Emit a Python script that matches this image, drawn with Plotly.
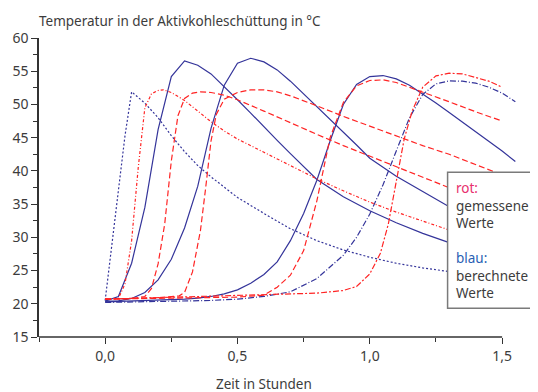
import plotly.graph_objects as go

# ---------------- data ----------------
x_tickvals = [0, 0.5, 1.0, 1.5]
x_ticktext = ["0,0", "0,5", "1,0", "1,5"]
y_tickvals = [15, 20, 25, 30, 35, 40, 45, 50, 55, 60]

# blue = berechnete Werte
blue_dot_t = [0, 0.025, 0.05, 0.075, 0.1, 0.15, 0.2, 0.25, 0.3, 0.35, 0.4, 0.5, 0.6, 0.7, 0.8, 0.9, 1.0, 1.1, 1.2, 1.3, 1.4, 1.5]
blue_dot_T = [20.5, 29, 37.5, 45.3, 51.9, 50.2, 48.0, 45.3, 42.9, 40.8, 39.1, 36.0, 33.6, 31.3, 29.5, 28.1, 27.0, 26.1, 25.4, 24.8, 24.3, 23.9]

blue_s1_t = [0, 0.05, 0.1, 0.15, 0.2, 0.25, 0.3, 0.35, 0.4, 0.45, 0.5, 0.55, 0.6, 0.65, 0.7, 0.75, 0.8, 0.9, 1.0, 1.1, 1.2, 1.3, 1.4, 1.5]
blue_s1_T = [20.4, 21.1, 26.1, 34.5, 46.2, 54.2, 56.55, 55.9, 54.6, 52.7, 50.7, 48.7, 46.6, 44.6, 42.6, 40.6, 38.7, 36.1, 34.0, 32.2, 30.6, 29.2, 28.0, 27.0]

blue_s2_t = [0, 0.05, 0.1, 0.15, 0.2, 0.25, 0.3, 0.35, 0.4, 0.45, 0.5, 0.55, 0.6, 0.65, 0.7, 0.75, 0.8, 0.85, 0.9, 0.95, 1.0, 1.1, 1.2, 1.3, 1.4, 1.5]
blue_s2_T = [20.4, 20.45, 20.8, 21.7, 23.6, 26.7, 31.4, 37.7, 46.4, 52.9, 56.2, 56.95, 56.4, 55.2, 53.5, 51.6, 49.6, 47.7, 45.9, 43.9, 41.9, 39.2, 36.9, 34.6, 32.9, 31.5]

blue_s3_t = [0, 0.1, 0.2, 0.3, 0.35, 0.4, 0.45, 0.5, 0.55, 0.6, 0.65, 0.7, 0.75, 0.8, 0.85, 0.9, 0.95, 1.0, 1.05, 1.1, 1.15, 1.2, 1.25, 1.3, 1.4, 1.5, 1.55]
blue_s3_T = [20.3, 20.4, 20.5, 20.7, 20.85, 21.1, 21.5, 22.1, 23.1, 24.4, 26.3, 29.5, 33.6, 38.6, 44.5, 50.0, 53.0, 54.2, 54.35, 53.85, 52.9, 51.6, 50.2, 48.8, 45.9, 43.0, 41.4]

blue_dd_t = [0, 0.2, 0.4, 0.5, 0.6, 0.7, 0.8, 0.9, 0.95, 1.0, 1.05, 1.1, 1.15, 1.2, 1.25, 1.3, 1.35, 1.4, 1.45, 1.5, 1.55]
blue_dd_T = [20.2, 20.3, 20.5, 20.7, 21.1, 21.8, 23.8, 27.3, 30.0, 33.5, 37.9, 43.0, 48.0, 51.5, 53.1, 53.55, 53.5, 53.2, 52.6, 51.7, 50.4]

# red = gemessene Werte
red_dot_t = [0, 0.05, 0.075, 0.1, 0.125, 0.15, 0.175, 0.2, 0.22, 0.25, 0.3, 0.35, 0.4, 0.45, 0.5, 0.6, 0.7, 0.8, 0.9, 1.0, 1.1, 1.2, 1.3, 1.4, 1.5]
red_dot_T = [20.7, 20.8, 23.0, 29.5, 40.5, 49.5, 51.6, 52.1, 52.2, 51.8, 50.6, 49.0, 47.4, 46.0, 44.8, 42.8, 40.8, 38.8, 37.0, 35.3, 33.8, 32.4, 31.1, 29.9, 28.8]

red_d1_t = [0, 0.1, 0.15, 0.175, 0.2, 0.225, 0.25, 0.275, 0.3, 0.33, 0.36, 0.4, 0.45, 0.5, 0.6, 0.7, 0.8, 0.9, 1.0, 1.1, 1.2, 1.3, 1.4, 1.5]
red_d1_T = [20.7, 20.8, 21.1, 22.3, 26.0, 32.0, 41.5, 48.3, 50.9, 51.7, 51.9, 51.8, 51.4, 50.7, 49.0, 47.2, 45.5, 43.8, 42.2, 40.6, 39.0, 37.4, 35.8, 34.3]

red_d2_t = [0, 0.2, 0.28, 0.3, 0.33, 0.36, 0.38, 0.4, 0.42, 0.45, 0.5, 0.55, 0.6, 0.65, 0.7, 0.75, 0.8, 0.9, 1.0, 1.1, 1.2, 1.3, 1.4, 1.5]
red_d2_T = [20.7, 20.9, 21.2, 21.7, 24.8, 31.0, 37.5, 44.5, 48.5, 50.8, 51.8, 52.2, 52.2, 51.9, 51.3, 50.6, 49.8, 48.2, 46.7, 45.2, 43.8, 42.5, 40.9, 39.4]

red_d3_t = [0, 0.3, 0.5, 0.6, 0.65, 0.7, 0.75, 0.8, 0.85, 0.9, 0.95, 1.0, 1.05, 1.1, 1.2, 1.3, 1.4, 1.5]
red_d3_T = [20.7, 20.9, 21.0, 21.3, 22.5, 24.3, 28.0, 35.5, 45.0, 50.3, 52.8, 53.6, 53.7, 53.3, 51.9, 50.4, 48.9, 47.5]

red_dd_t = [0, 0.2, 0.4, 0.6, 0.7, 0.8, 0.9, 0.95, 1.0, 1.04, 1.07, 1.1, 1.13, 1.16, 1.2, 1.25, 1.3, 1.35, 1.4, 1.45, 1.5]
red_dd_T = [20.7, 20.9, 21.1, 21.3, 21.5, 21.6, 22.0, 22.6, 24.5, 27.6, 32.0, 38.5, 44.8, 49.0, 52.6, 54.3, 54.7, 54.6, 54.1, 53.5, 52.6]

# ---------------- styling ----------------
BLUE = "#34349a"
RED = "#ff2424"
TXT = "#3c3c3c"
FONT = "Noto Sans"

series = [
    (blue_dot_t, blue_dot_T, BLUE, "2px,2px"),
    (blue_s1_t, blue_s1_T, BLUE, "solid"),
    (blue_s2_t, blue_s2_T, BLUE, "solid"),
    (blue_s3_t, blue_s3_T, BLUE, "solid"),
    (blue_dd_t, blue_dd_T, BLUE, "6px,2px,1px,2px"),
    (red_dot_t, red_dot_T, RED, "3px,2px,1px,2px"),
    (red_d1_t, red_d1_T, RED, "6px,3px"),
    (red_d2_t, red_d2_T, RED, "6px,3px"),
    (red_d3_t, red_d3_T, RED, "6px,3px"),
    (red_dd_t, red_dd_T, RED, "6px,2px,2px,2px"),
]

fig = go.Figure()
for t, T, c, d in series:
    fig.add_trace(go.Scatter(x=t, y=T, mode="lines",
                             line=dict(color=c, width=1.2, dash=d),
                             showlegend=False, hoverinfo="skip"))

# the page body adds an 8px offset, so the figure is 8px smaller on each axis
fig.update_layout(
    width=530, height=384,
    margin=dict(l=31, r=20, t=30, b=55, autoexpand=False),
    paper_bgcolor="white", plot_bgcolor="white",
    font=dict(family=FONT, size=14, color=TXT),
    showlegend=False,
)

fig.update_xaxes(
    range=[-0.25, 1.56], showgrid=False, zeroline=False, showline=False,
    automargin=False,
    tickmode="array", tickvals=x_tickvals, ticktext=x_ticktext,
    ticks="outside", ticklen=6, tickwidth=1.3, tickcolor="#333",
    minor=dict(tickmode="linear", tick0=-0.25, dtick=0.25, ticks="outside",
               ticklen=4, tickwidth=1.3, tickcolor="#333"),
    tickfont=dict(size=14, color=TXT),
)
fig.update_yaxes(
    range=[15, 60], showgrid=False, zeroline=False,
    automargin=False,
    showline=True, linecolor="#333", linewidth=1.5,
    tickmode="array", tickvals=y_tickvals,
    ticks="outside", ticklen=6, tickwidth=1.3, tickcolor="#333",
    minor=dict(tickmode="linear", tick0=15, dtick=2.5, ticks="outside",
               ticklen=4, tickwidth=1.3, tickcolor="#333"),
    tickfont=dict(size=14, color=TXT),
)

# x-axis line ends at 1,5 while curves run a bit beyond
fig.add_shape(type="line", xref="x", yref="paper", x0=-0.25, x1=1.5, y0=0, y1=0,
              line=dict(color="#333", width=1.5), layer="above")

# legend box
fig.add_shape(type="rect", xref="paper", yref="paper",
              x0=0.853, x1=1.039, y0=0.096, y1=0.551,
              fillcolor="white", line=dict(color="#7a7a7a", width=1.5), layer="above")

fig.add_annotation(xref="paper", yref="paper", x=0.866, y=0.535, xanchor="left", yanchor="top",
                   align="left", showarrow=False, font=dict(size=13.5, color=TXT),
                   text="<span style='color:#e8306e'>rot:</span><br>gemessene<br>Werte")
fig.add_annotation(xref="paper", yref="paper", x=0.866, y=0.30, xanchor="left", yanchor="top",
                   align="left", showarrow=False, font=dict(size=13.5, color=TXT),
                   text="<span style='color:#2a5fb4'>blau:</span><br>berechnete<br>Werte")

# titles
fig.add_annotation(xref="paper", yref="paper", x=-0.005, y=1.0, xanchor="left", yanchor="bottom",
                   yshift=6, showarrow=False, font=dict(size=13.5, color=TXT),
                   text="Temperatur in der Aktivkohleschüttung in °C")
fig.add_annotation(xref="paper", yref="paper", x=0.47, y=0, xanchor="center", yanchor="top",
                   yshift=-36, showarrow=False, font=dict(size=13.5, color=TXT),
                   text="Zeit in Stunden")

fig.write_html("out.html")
